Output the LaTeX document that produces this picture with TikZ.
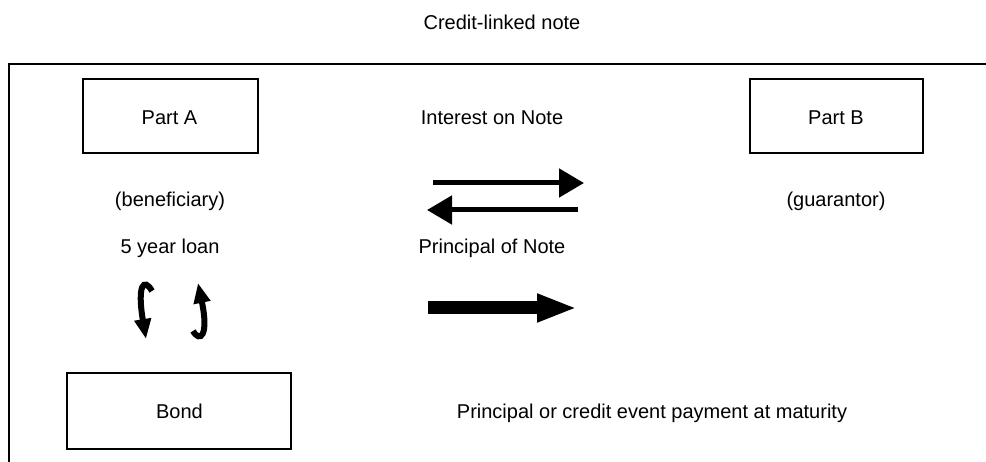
\documentclass[tikz,border=0pt]{standalone}
\usepackage{fontspec}
\setmainfont{Liberation Sans}
\usetikzlibrary{arrows.meta}
\begin{document}
\begin{tikzpicture}[x=1pt,y=-1pt,
  lbl/.style={font=\fontsize{20}{24}\selectfont, inner sep=0pt, anchor=base},
  boxe/.style={draw, line width=2.5pt},
  thinarr/.style={line width=5pt, -{Triangle[length=25pt,width=28pt]}},
  fatarr/.style={line width=13pt, -{Triangle[length=40pt,width=26pt]}},
  curvarr/.style={line width=6pt, -{Triangle[length=20pt,width=16pt]}}]
\useasboundingbox (0,0) rectangle (986,462);
\draw[line width=2.5pt] (986,64) -- (9,64) -- (9,462);
\node[boxe, minimum width=175pt, minimum height=74pt] (pa) at (170.5,116) {};
\node[boxe, minimum width=173pt, minimum height=74pt] (pb) at (836.5,116) {};
\node[boxe, minimum width=224pt, minimum height=76pt] (bond) at (179,411) {};
\node[lbl] (tA) at (169.5,125) {Part A};
\node[lbl] (tB) at (836,125) {Part B};
\node[lbl] (tBond) at (179.5,418) {Bond};
\node[lbl] (title) at (502,30) {Credit-linked note};
\node[lbl] (ion) at (492,125) {Interest on Note};
\node[lbl] (ben) at (170,207) {(beneficiary)};
\node[lbl] (gua) at (836,207) {(guarantor)};
\node[lbl] (loan) at (170,254) {5 year loan};
\node[lbl] (pon) at (492,254) {Principal of Note};
\node[lbl] (pce) at (652,418) {Principal or credit event payment at maturity};
\coordinate (a1s) at (433,183);
\coordinate (a1e) at (584,183);
\coordinate (a2s) at (578,210);
\coordinate (a2e) at (427,210);
\coordinate (a3s) at (428,308);
\coordinate (a3e) at (577,308);
\draw[thinarr] (a1s) -- (a1e);
\draw[thinarr] (a2s) -- (a2e);
\draw[fatarr] (a3s) -- (a3e);
\coordinate (c1s) at (152,291);
\coordinate (c1e) at (146,339);
\coordinate (c2s) at (193,331);
\coordinate (c2e) at (198,283);
\draw[curvarr] (c1s) .. controls (144,277) and (137,285) .. (c1e);
\draw[curvarr] (c2s) .. controls (200,343) and (209,336) .. (c2e);
\end{tikzpicture}
\end{document}
